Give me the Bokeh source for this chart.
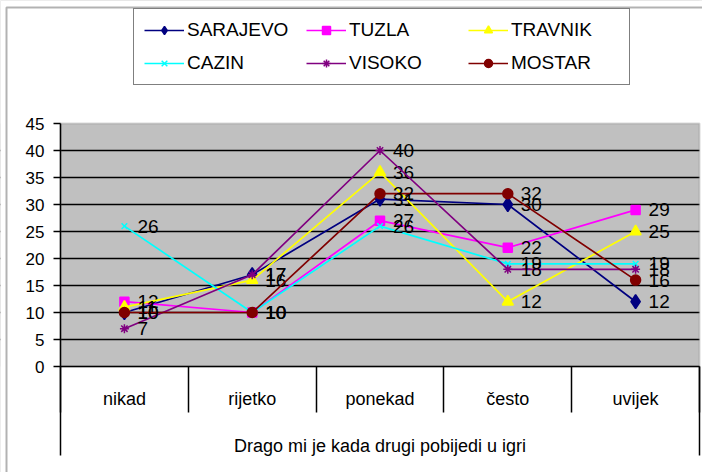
from bokeh.plotting import figure
from bokeh.models import (Range1d, FixedTicker, BoxAnnotation, Legend, LegendItem,
                          LinearAxis, ColumnDataSource)
from bokeh.core.properties import value
from bokeh.embed import file_html
from bokeh.resources import INLINE

categories = ["nikad", "rijetko", "ponekad", "često", "uvijek"]
x_title = "Drago mi je kada drugi pobijedi u igri"
series_names = ["SARAJEVO", "TUZLA", "TRAVNIK", "CAZIN", "VISOKO", "MOSTAR"]
sarajevo = [10, 17, 31, 30, 12]
tuzla = [12, 10, 27, 22, 29]
travnik = [11, 16, 36, 12, 25]
cazin = [26, 10, 26, 19, 19]
visoko = [7, 17, 40, 18, 18]
mostar = [10, 10, 32, 32, 16]
y_ticks = [0, 5, 10, 15, 20, 25, 30, 35, 40, 45]

series_values = [sarajevo, tuzla, travnik, cazin, visoko, mostar]
colors = ["#000080", "#FF00FF", "#FFFF00", "#00FFFF", "#800080", "#800000"]
markers = ["diamond", "square", "triangle", "x", "asterisk", "circle"]
sizes = [14, 9, 11, 8, 9, 10]

FONT = "Liberation Sans"
W, H = 702, 472
NCAT = len(categories)
Y_TOP = 45
# pixel layout of the plot area
PL, PR, PT, PB = 60, 699, 123, 366
BAND_BOTTOM = 455
sx = (PR - PL) / NCAT
sy = (PB - PT) / Y_TOP
x0 = -PL / sx
x1 = NCAT + (W - PR) / sx
y0 = -(H - PB) / sy
y1 = Y_TOP + PT / sy
Y_LOW = -(BAND_BOTTOM - PB) / sy

centers = [i + 0.5 for i in range(NCAT)]
bounds_x = list(range(NCAT + 1))

p = figure(width=W, height=H, output_backend="svg", toolbar_location=None,
           x_range=Range1d(x0, x1), y_range=Range1d(y0, y1),
           min_border=0, background_fill_color="#C0C0C0",
           border_fill_color="white", outline_line_color=None)

# grid
p.xgrid.visible = False
p.ygrid.ticker = FixedTicker(ticks=[t for t in y_ticks if 0 < t < Y_TOP])
p.ygrid.grid_line_color = "black"
p.ygrid.grid_line_width = 1.5

# white outside the plot area
for kw in (dict(right=0), dict(left=NCAT), dict(bottom=Y_TOP), dict(top=0)):
    p.add_layout(BoxAnnotation(fill_color="white", fill_alpha=1, line_color=None,
                               level="underlay", **kw))
# grey border of plot area
p.add_layout(BoxAnnotation(left=0, right=NCAT, bottom=0, top=Y_TOP,
                           fill_alpha=0, line_color="#808080", line_width=2,
                           level="underlay"))
# outer chart border (left and top edges visible)
p.add_layout(BoxAnnotation(left=x0 + 6 / sx, top=y1 - 7 / sy, right=x1 + 10,
                           bottom=y0 - 10, fill_alpha=0, line_color="black",
                           line_width=2, level="annotation"))

# x axis
xa = p.xaxis[0]
xa.fixed_location = 0
xa.bounds = (0, NCAT)
xa.ticker = FixedTicker(ticks=centers, minor_ticks=bounds_x)
xa.major_label_overrides = {c: lab for c, lab in zip(centers, categories)}
xa.major_tick_out = 0
xa.major_tick_in = 0
xa.minor_tick_out = 46
xa.minor_tick_in = 0
xa.minor_tick_line_color = "black"
xa.minor_tick_line_width = 1.5
xa.axis_line_color = "black"
xa.axis_line_width = 1.5
xa.major_label_text_font = FONT
xa.major_label_text_font_size = "18px"
xa.major_label_text_color = "black"
xa.major_label_standoff = -24
xa.axis_label = x_title
xa.axis_label_text_font = FONT
xa.axis_label_text_font_style = "normal"
xa.axis_label_text_font_size = "18px"
xa.axis_label_text_color = "black"
xa.axis_label_standoff = 24

# y axis
ya = p.yaxis[0]
ya.fixed_location = 0
ya.bounds = (Y_LOW, Y_TOP)
ya.ticker = FixedTicker(ticks=y_ticks)
ya.major_tick_out = 7
ya.major_tick_in = 0
ya.major_tick_line_color = "black"
ya.major_tick_line_width = 1.5
ya.axis_line_color = "black"
ya.axis_line_width = 1.5
ya.major_label_standoff = 9
ya.major_label_text_font = FONT
ya.major_label_text_font_size = "17px"
ya.major_label_text_color = "black"

# right edge line of the category band
ra = LinearAxis(ticker=FixedTicker(ticks=[]), bounds=(Y_LOW, 0), fixed_location=NCAT,
                axis_line_color="black", axis_line_width=1.5,
                major_tick_out=0, major_tick_in=0, minor_tick_out=0,
                minor_tick_in=0, major_label_standoff=0,
                major_label_text_font_size="0px")
p.add_layout(ra, "right")

items = []
for name, vals, col, mk, sz in zip(series_names, series_values, colors, markers, sizes):
    src = ColumnDataSource(dict(x=centers, y=vals, t=[str(v) for v in vals]))
    lr = p.line("x", "y", source=src, line_color=col, line_width=1.7)
    sr = p.scatter("x", "y", source=src, marker=mk, size=sz, fill_color=col,
                   line_color=col, line_width=1.5)
    p.text("x", "y", text="t", source=src, x_offset=13, text_baseline="middle",
           text_align="left", text_font=value(FONT), text_font_size="19px",
           text_color="black")
    items.append(LegendItem(label=name, renderers=[lr, sr]))

LEG_LEFT, LEG_BOTTOM = 133, 85
legend = Legend(items=items, location=(LEG_LEFT, H - LEG_BOTTOM),
                orientation="horizontal", ncols=3,
                padding=10, spacing=11, glyph_width=40, glyph_height=20,
                label_height=20, label_width=108, label_standoff=3,
                label_text_font=FONT, label_text_font_size="19px",
                label_text_color="black", border_line_color="black",
                border_line_width=1.5, background_fill_color="white",
                background_fill_alpha=1, margin=0)
p.add_layout(legend, "center")

open("out.html", "w").write(file_html(p, INLINE))
